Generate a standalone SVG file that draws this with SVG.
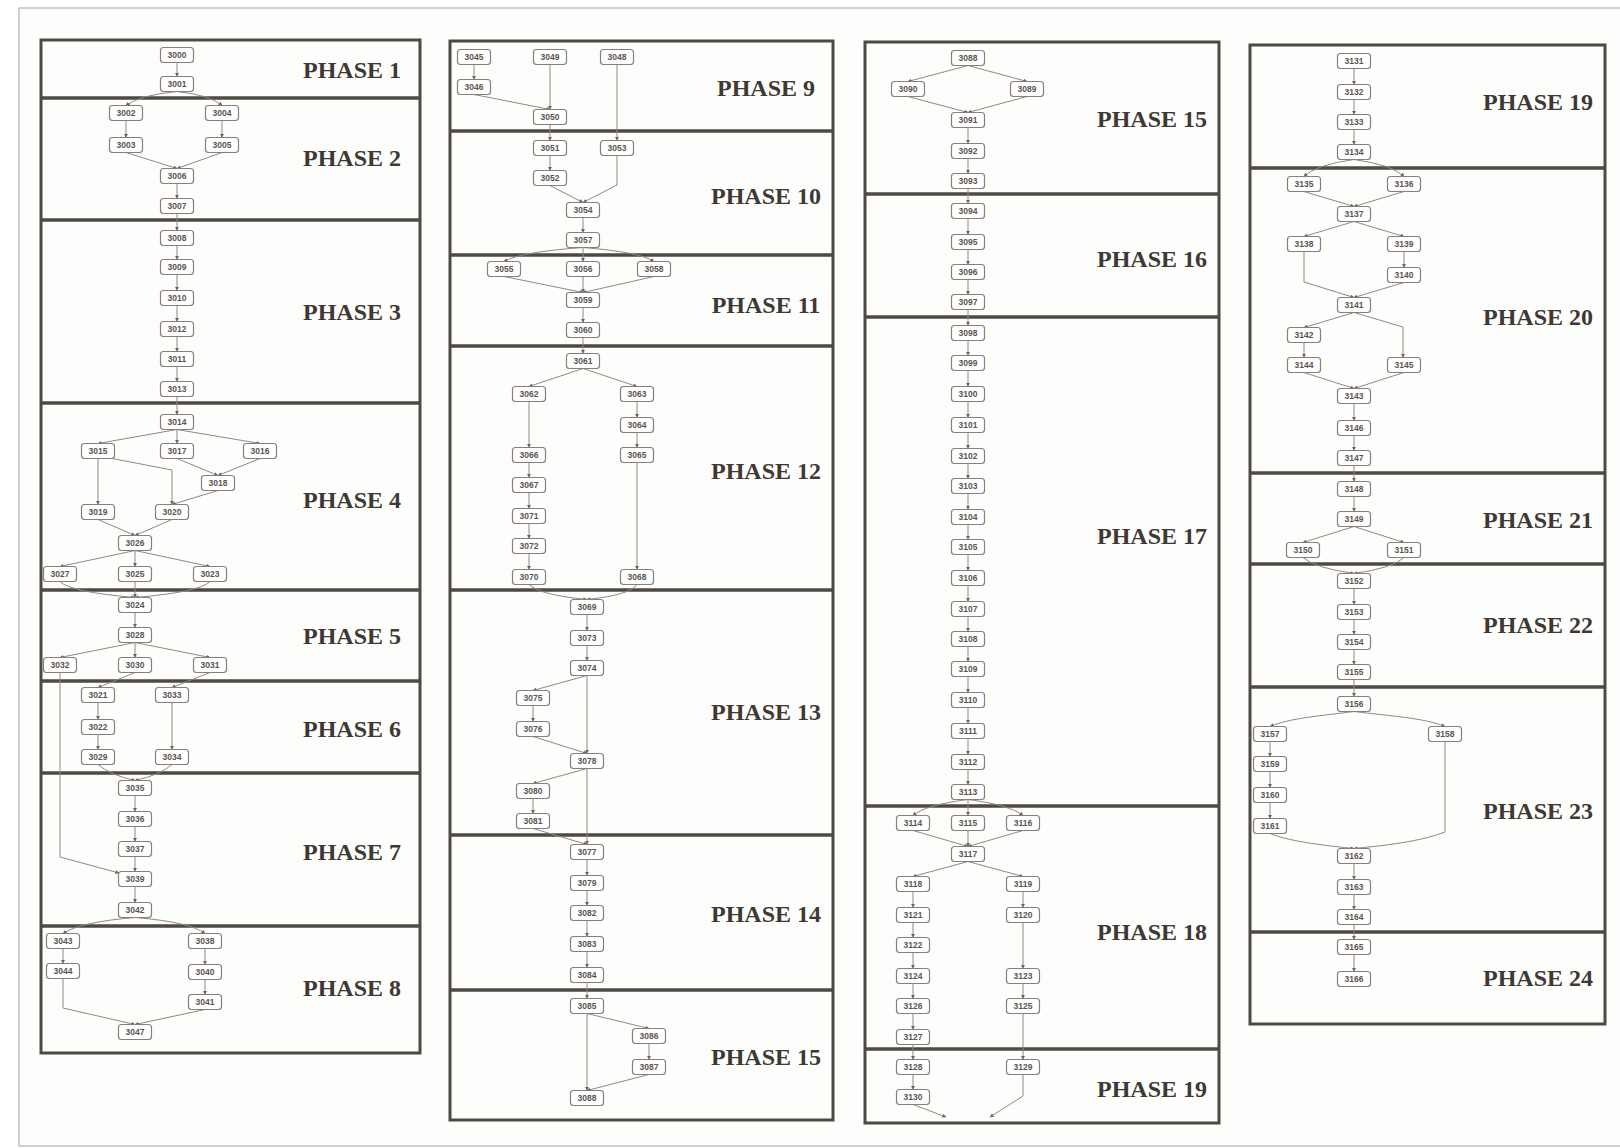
<svg xmlns="http://www.w3.org/2000/svg" width="1620" height="1148" viewBox="0 0 1620 1148">
<defs>
<marker id="ar" viewBox="0 0 6 6" refX="5.5" refY="3" markerWidth="4" markerHeight="4" orient="auto"><path d="M0,0 L6,3 L0,6 z" fill="#6a6560"/></marker>
<style>
.page{fill:#fdfdfc;stroke:#a8a5a2;stroke-width:1}
.frame{fill:none;stroke:#4f4843;stroke-width:3}
.dv{stroke:#4f4843;stroke-width:3.5}
.n rect{fill:#fff;stroke:#85807b;stroke-width:1.2}
.n text{font-family:"Liberation Sans",Arial,sans-serif;font-size:8.5px;font-weight:bold;fill:#5a5550;text-anchor:middle}
.e path{fill:none;stroke:#8e8984;stroke-width:1;marker-end:url(#ar)}
.ph{font-family:"Liberation Serif","Times New Roman",serif;font-weight:bold;font-size:24px;fill:#3e3935;text-anchor:middle}
</style>
</defs>
<rect class="page" x="19" y="8" width="1620" height="1138"/>
<g id="frames">
<rect class="frame" x="41" y="40" width="379" height="1013"/>
<rect class="frame" x="450" y="41" width="383" height="1079"/>
<rect class="frame" x="865" y="42" width="354" height="1081"/>
<rect class="frame" x="1250" y="45" width="355" height="979"/>
<path class="dv" d="M41 98H420M41 220H420M41 403H420M41 590H420M41 681H420M41 773H420M41 926H420"/>
<path class="dv" d="M450 131H833M450 255H833M450 346H833M450 590H833M450 835H833M450 990H833"/>
<path class="dv" d="M865 194H1219M865 317H1219M865 806H1219M865 1049H1219"/>
<path class="dv" d="M1250 168H1605M1250 473H1605M1250 564H1605M1250 687H1605M1250 932H1605"/>
</g>
<g id="labels">
<text class="ph" x="352" y="78">PHASE 1</text>
<text class="ph" x="352" y="166">PHASE 2</text>
<text class="ph" x="352" y="320">PHASE 3</text>
<text class="ph" x="352" y="508">PHASE 4</text>
<text class="ph" x="352" y="644">PHASE 5</text>
<text class="ph" x="352" y="737">PHASE 6</text>
<text class="ph" x="352" y="860">PHASE 7</text>
<text class="ph" x="352" y="996">PHASE 8</text>
<text class="ph" x="766" y="96">PHASE 9</text>
<text class="ph" x="766" y="204">PHASE 10</text>
<text class="ph" x="766" y="313">PHASE 11</text>
<text class="ph" x="766" y="479">PHASE 12</text>
<text class="ph" x="766" y="720">PHASE 13</text>
<text class="ph" x="766" y="922">PHASE 14</text>
<text class="ph" x="766" y="1065">PHASE 15</text>
<text class="ph" x="1152" y="127">PHASE 15</text>
<text class="ph" x="1152" y="267">PHASE 16</text>
<text class="ph" x="1152" y="544">PHASE 17</text>
<text class="ph" x="1152" y="940">PHASE 18</text>
<text class="ph" x="1152" y="1097">PHASE 19</text>
<text class="ph" x="1538" y="110">PHASE 19</text>
<text class="ph" x="1538" y="325">PHASE 20</text>
<text class="ph" x="1538" y="528">PHASE 21</text>
<text class="ph" x="1538" y="633">PHASE 22</text>
<text class="ph" x="1538" y="819">PHASE 23</text>
<text class="ph" x="1538" y="986">PHASE 24</text>
</g>
<g id="connectors" class="e">
<path d="M177 62.5V76.5"/>
<path d="M177 91.5Q140 95 126 105.5"/>
<path d="M177 91.5Q210 95 222 105.5"/>
<path d="M126 120.5V137.5"/>
<path d="M222 120.5V137.5"/>
<path d="M126 152.5L177 168.5"/>
<path d="M222 152.5L177 168.5"/>
<path d="M177 183.5V198.5"/>
<path d="M177 213.5V230.5"/>
<path d="M177 245.5V259.5"/>
<path d="M177 274.5V290.5"/>
<path d="M177 305.5V321.5"/>
<path d="M177 336.5V351.5"/>
<path d="M177 366.5V381.5"/>
<path d="M177 396.5V414.5"/>
<path d="M177 429.5L98 443.5"/>
<path d="M177 429.5V443.5"/>
<path d="M177 429.5L260 443.5"/>
<path d="M98 458.5V504.5"/>
<path d="M112 458.5L172 470V504.5"/>
<path d="M177 458.5L218 475.5"/>
<path d="M260 458.5L218 475.5"/>
<path d="M218 490.5L172 504.5"/>
<path d="M98 519.5L135 535.5"/>
<path d="M172 519.5L135 535.5"/>
<path d="M135 550.5L60 566.5"/>
<path d="M135 550.5V566.5"/>
<path d="M135 550.5L210 566.5"/>
<path d="M60 581.5Q70 592 135 597.5"/>
<path d="M135 581.5V597.5"/>
<path d="M210 581.5Q200 592 135 597.5"/>
<path d="M135 612.5V627.5"/>
<path d="M135 642.5L60 657.5"/>
<path d="M135 642.5V657.5"/>
<path d="M135 642.5L210 657.5"/>
<path d="M135 672.5L98 687.5"/>
<path d="M210 672.5L172 687.5"/>
<path d="M60 672.5V857L119 873"/>
<path d="M98 702.5V719.5"/>
<path d="M98 734.5V749.5"/>
<path d="M172 702.5V749.5"/>
<path d="M98 764.5Q110 775 135 780.5"/>
<path d="M172 764.5Q160 775 135 780.5"/>
<path d="M135 795.5V811.5"/>
<path d="M135 826.5V841.5"/>
<path d="M135 856.5V871.5"/>
<path d="M135 886.5V902.5"/>
<path d="M135 917.5Q80 922 63 933.5"/>
<path d="M135 917.5Q190 922 205 933.5"/>
<path d="M63 948.5V963.5"/>
<path d="M63 978.5V1008L135 1024.5"/>
<path d="M205 948.5V964.5"/>
<path d="M205 979.5V994.5"/>
<path d="M205 1009.5L135 1024.5"/>
<path d="M474 64.5V79.5"/>
<path d="M474 94.5L550 109.5"/>
<path d="M550 64.5V109.5"/>
<path d="M617 64.5V140.5"/>
<path d="M550 124.5V140.5"/>
<path d="M550 155.5V170.5"/>
<path d="M550 185.5L583 202.5"/>
<path d="M617 155.5V185L583 202.5"/>
<path d="M583 217.5V232.5"/>
<path d="M583 247.5Q520 252 504 261.5"/>
<path d="M583 247.5V261.5"/>
<path d="M583 247.5Q640 252 654 261.5"/>
<path d="M504 276.5L583 292.5"/>
<path d="M583 276.5V292.5"/>
<path d="M654 276.5L583 292.5"/>
<path d="M583 307.5V322.5"/>
<path d="M583 337.5V353.5"/>
<path d="M583 368.5L529 386.5"/>
<path d="M583 368.5L637 386.5"/>
<path d="M529 401.5V447.5"/>
<path d="M529 462.5V477.5"/>
<path d="M529 492.5V508.5"/>
<path d="M529 523.5V538.5"/>
<path d="M529 553.5V569.5"/>
<path d="M637 401.5V417.5"/>
<path d="M637 432.5V447.5"/>
<path d="M637 462.5V569.5"/>
<path d="M529 584.5Q540 595 587 599.5"/>
<path d="M637 584.5Q630 595 587 599.5"/>
<path d="M587 614.5V630.5"/>
<path d="M587 645.5V660.5"/>
<path d="M587 675.5L533 690.5"/>
<path d="M533 705.5V721.5"/>
<path d="M533 736.5L587 753.5"/>
<path d="M587 675.5V753.5"/>
<path d="M587 768.5L533 783.5"/>
<path d="M533 798.5V813.5"/>
<path d="M533 828.5L587 844.5"/>
<path d="M587 768.5V844.5"/>
<path d="M587 859.5V875.5"/>
<path d="M587 890.5V905.5"/>
<path d="M587 920.5V936.5"/>
<path d="M587 951.5V967.5"/>
<path d="M587 982.5V998.5"/>
<path d="M587 1013.5L649 1028.5"/>
<path d="M649 1043.5V1059.5"/>
<path d="M649 1074.5L587 1090.5"/>
<path d="M587 1013.5V1090.5"/>
<path d="M968 65.5L908 81.5"/>
<path d="M968 65.5L1027 81.5"/>
<path d="M908 96.5L968 112.5"/>
<path d="M1027 96.5L968 112.5"/>
<path d="M968 127.5V143.5"/>
<path d="M968 158.5V173.5"/>
<path d="M968 188.5V203.5"/>
<path d="M968 218.5V234.5"/>
<path d="M968 249.5V264.5"/>
<path d="M968 279.5V294.5"/>
<path d="M968 309.5V325.5"/>
<path d="M968 340.5V355.5"/>
<path d="M968 370.5V386.5"/>
<path d="M968 401.5V417.5"/>
<path d="M968 432.5V448.5"/>
<path d="M968 463.5V478.5"/>
<path d="M968 493.5V509.5"/>
<path d="M968 524.5V539.5"/>
<path d="M968 554.5V570.5"/>
<path d="M968 585.5V601.5"/>
<path d="M968 616.5V631.5"/>
<path d="M968 646.5V661.5"/>
<path d="M968 676.5V692.5"/>
<path d="M968 707.5V723.5"/>
<path d="M968 738.5V754.5"/>
<path d="M968 769.5V784.5"/>
<path d="M968 799.5Q925 805 913 815.5"/>
<path d="M968 799.5V815.5"/>
<path d="M968 799.5Q1010 805 1023 815.5"/>
<path d="M913 830.5L968 846.5"/>
<path d="M968 830.5V846.5"/>
<path d="M1023 830.5L968 846.5"/>
<path d="M968 861.5L913 876.5"/>
<path d="M968 861.5L1023 876.5"/>
<path d="M913 891.5V907.5"/>
<path d="M913 922.5V937.5"/>
<path d="M913 952.5V968.5"/>
<path d="M913 983.5V998.5"/>
<path d="M913 1013.5V1029.5"/>
<path d="M913 1044.5V1059.5"/>
<path d="M913 1074.5V1089.5"/>
<path d="M1023 891.5V907.5"/>
<path d="M1023 922.5V968.5"/>
<path d="M1023 983.5V998.5"/>
<path d="M1023 1013.5V1059.5"/>
<path d="M913 1104.5L946 1117"/>
<path d="M1023 1074.5V1096L990 1117"/>
<path d="M1354 68.5V84.5"/>
<path d="M1354 99.5V114.5"/>
<path d="M1354 129.5V144.5"/>
<path d="M1354 159.5Q1315 165 1304 176.5"/>
<path d="M1354 159.5Q1393 165 1404 176.5"/>
<path d="M1304 191.5L1354 206.5"/>
<path d="M1404 191.5L1354 206.5"/>
<path d="M1354 221.5L1304 236.5"/>
<path d="M1354 221.5L1404 236.5"/>
<path d="M1404 251.5V267.5"/>
<path d="M1304 251.5V282L1354 297.5"/>
<path d="M1404 282.5L1354 297.5"/>
<path d="M1354 312.5L1304 327.5"/>
<path d="M1354 312.5L1403 327V357.5"/>
<path d="M1304 342.5V357.5"/>
<path d="M1304 372.5L1354 388.5"/>
<path d="M1404 372.5L1354 388.5"/>
<path d="M1354 403.5V420.5"/>
<path d="M1354 435.5V450.5"/>
<path d="M1354 465.5V481.5"/>
<path d="M1354 496.5V511.5"/>
<path d="M1354 526.5L1303 542.5"/>
<path d="M1354 526.5L1404 542.5"/>
<path d="M1303 557.5Q1315 568 1354 573.5"/>
<path d="M1404 557.5Q1393 568 1354 573.5"/>
<path d="M1354 588.5V604.5"/>
<path d="M1354 619.5V634.5"/>
<path d="M1354 649.5V664.5"/>
<path d="M1354 679.5V696.5"/>
<path d="M1354 711.5C1320 716 1290 718 1270 726.5"/>
<path d="M1354 711.5C1390 716 1425 718 1445 726.5"/>
<path d="M1270 741.5V756.5"/>
<path d="M1270 771.5V787.5"/>
<path d="M1270 802.5V818.5"/>
<path d="M1270 833.5C1290 842 1330 846 1354 848.5"/>
<path d="M1445 741.5V832C1420 842 1380 846 1354 848.5"/>
<path d="M1354 863.5V879.5"/>
<path d="M1354 894.5V909.5"/>
<path d="M1354 924.5V939.5"/>
<path d="M1354 954.5V971.5"/>
</g>
<g id="nodes">
<g id="n3000" class="n"><rect x="160.5" y="47.5" width="33" height="15" rx="3"/><text x="177" y="58">3000</text></g>
<g id="n3001" class="n"><rect x="160.5" y="76.5" width="33" height="15" rx="3"/><text x="177" y="87">3001</text></g>
<g id="n3002" class="n"><rect x="109.5" y="105.5" width="33" height="15" rx="3"/><text x="126" y="116">3002</text></g>
<g id="n3004" class="n"><rect x="205.5" y="105.5" width="33" height="15" rx="3"/><text x="222" y="116">3004</text></g>
<g id="n3003" class="n"><rect x="109.5" y="137.5" width="33" height="15" rx="3"/><text x="126" y="148">3003</text></g>
<g id="n3005" class="n"><rect x="205.5" y="137.5" width="33" height="15" rx="3"/><text x="222" y="148">3005</text></g>
<g id="n3006" class="n"><rect x="160.5" y="168.5" width="33" height="15" rx="3"/><text x="177" y="179">3006</text></g>
<g id="n3007" class="n"><rect x="160.5" y="198.5" width="33" height="15" rx="3"/><text x="177" y="209">3007</text></g>
<g id="n3008" class="n"><rect x="160.5" y="230.5" width="33" height="15" rx="3"/><text x="177" y="241">3008</text></g>
<g id="n3009" class="n"><rect x="160.5" y="259.5" width="33" height="15" rx="3"/><text x="177" y="270">3009</text></g>
<g id="n3010" class="n"><rect x="160.5" y="290.5" width="33" height="15" rx="3"/><text x="177" y="301">3010</text></g>
<g id="n3012" class="n"><rect x="160.5" y="321.5" width="33" height="15" rx="3"/><text x="177" y="332">3012</text></g>
<g id="n3011" class="n"><rect x="160.5" y="351.5" width="33" height="15" rx="3"/><text x="177" y="362">3011</text></g>
<g id="n3013" class="n"><rect x="160.5" y="381.5" width="33" height="15" rx="3"/><text x="177" y="392">3013</text></g>
<g id="n3014" class="n"><rect x="160.5" y="414.5" width="33" height="15" rx="3"/><text x="177" y="425">3014</text></g>
<g id="n3015" class="n"><rect x="81.5" y="443.5" width="33" height="15" rx="3"/><text x="98" y="454">3015</text></g>
<g id="n3017" class="n"><rect x="160.5" y="443.5" width="33" height="15" rx="3"/><text x="177" y="454">3017</text></g>
<g id="n3016" class="n"><rect x="243.5" y="443.5" width="33" height="15" rx="3"/><text x="260" y="454">3016</text></g>
<g id="n3018" class="n"><rect x="201.5" y="475.5" width="33" height="15" rx="3"/><text x="218" y="486">3018</text></g>
<g id="n3019" class="n"><rect x="81.5" y="504.5" width="33" height="15" rx="3"/><text x="98" y="515">3019</text></g>
<g id="n3020" class="n"><rect x="155.5" y="504.5" width="33" height="15" rx="3"/><text x="172" y="515">3020</text></g>
<g id="n3026" class="n"><rect x="118.5" y="535.5" width="33" height="15" rx="3"/><text x="135" y="546">3026</text></g>
<g id="n3027" class="n"><rect x="43.5" y="566.5" width="33" height="15" rx="3"/><text x="60" y="577">3027</text></g>
<g id="n3025" class="n"><rect x="118.5" y="566.5" width="33" height="15" rx="3"/><text x="135" y="577">3025</text></g>
<g id="n3023" class="n"><rect x="193.5" y="566.5" width="33" height="15" rx="3"/><text x="210" y="577">3023</text></g>
<g id="n3024" class="n"><rect x="118.5" y="597.5" width="33" height="15" rx="3"/><text x="135" y="608">3024</text></g>
<g id="n3028" class="n"><rect x="118.5" y="627.5" width="33" height="15" rx="3"/><text x="135" y="638">3028</text></g>
<g id="n3032" class="n"><rect x="43.5" y="657.5" width="33" height="15" rx="3"/><text x="60" y="668">3032</text></g>
<g id="n3030" class="n"><rect x="118.5" y="657.5" width="33" height="15" rx="3"/><text x="135" y="668">3030</text></g>
<g id="n3031" class="n"><rect x="193.5" y="657.5" width="33" height="15" rx="3"/><text x="210" y="668">3031</text></g>
<g id="n3021" class="n"><rect x="81.5" y="687.5" width="33" height="15" rx="3"/><text x="98" y="698">3021</text></g>
<g id="n3033" class="n"><rect x="155.5" y="687.5" width="33" height="15" rx="3"/><text x="172" y="698">3033</text></g>
<g id="n3022" class="n"><rect x="81.5" y="719.5" width="33" height="15" rx="3"/><text x="98" y="730">3022</text></g>
<g id="n3029" class="n"><rect x="81.5" y="749.5" width="33" height="15" rx="3"/><text x="98" y="760">3029</text></g>
<g id="n3034" class="n"><rect x="155.5" y="749.5" width="33" height="15" rx="3"/><text x="172" y="760">3034</text></g>
<g id="n3035" class="n"><rect x="118.5" y="780.5" width="33" height="15" rx="3"/><text x="135" y="791">3035</text></g>
<g id="n3036" class="n"><rect x="118.5" y="811.5" width="33" height="15" rx="3"/><text x="135" y="822">3036</text></g>
<g id="n3037" class="n"><rect x="118.5" y="841.5" width="33" height="15" rx="3"/><text x="135" y="852">3037</text></g>
<g id="n3039" class="n"><rect x="118.5" y="871.5" width="33" height="15" rx="3"/><text x="135" y="882">3039</text></g>
<g id="n3042" class="n"><rect x="118.5" y="902.5" width="33" height="15" rx="3"/><text x="135" y="913">3042</text></g>
<g id="n3043" class="n"><rect x="46.5" y="933.5" width="33" height="15" rx="3"/><text x="63" y="944">3043</text></g>
<g id="n3038" class="n"><rect x="188.5" y="933.5" width="33" height="15" rx="3"/><text x="205" y="944">3038</text></g>
<g id="n3044" class="n"><rect x="46.5" y="963.5" width="33" height="15" rx="3"/><text x="63" y="974">3044</text></g>
<g id="n3040" class="n"><rect x="188.5" y="964.5" width="33" height="15" rx="3"/><text x="205" y="975">3040</text></g>
<g id="n3041" class="n"><rect x="188.5" y="994.5" width="33" height="15" rx="3"/><text x="205" y="1005">3041</text></g>
<g id="n3047" class="n"><rect x="118.5" y="1024.5" width="33" height="15" rx="3"/><text x="135" y="1035">3047</text></g>
<g id="n3045" class="n"><rect x="457.5" y="49.5" width="33" height="15" rx="3"/><text x="474" y="60">3045</text></g>
<g id="n3049" class="n"><rect x="533.5" y="49.5" width="33" height="15" rx="3"/><text x="550" y="60">3049</text></g>
<g id="n3048" class="n"><rect x="600.5" y="49.5" width="33" height="15" rx="3"/><text x="617" y="60">3048</text></g>
<g id="n3046" class="n"><rect x="457.5" y="79.5" width="33" height="15" rx="3"/><text x="474" y="90">3046</text></g>
<g id="n3050" class="n"><rect x="533.5" y="109.5" width="33" height="15" rx="3"/><text x="550" y="120">3050</text></g>
<g id="n3051" class="n"><rect x="533.5" y="140.5" width="33" height="15" rx="3"/><text x="550" y="151">3051</text></g>
<g id="n3053" class="n"><rect x="600.5" y="140.5" width="33" height="15" rx="3"/><text x="617" y="151">3053</text></g>
<g id="n3052" class="n"><rect x="533.5" y="170.5" width="33" height="15" rx="3"/><text x="550" y="181">3052</text></g>
<g id="n3054" class="n"><rect x="566.5" y="202.5" width="33" height="15" rx="3"/><text x="583" y="213">3054</text></g>
<g id="n3057" class="n"><rect x="566.5" y="232.5" width="33" height="15" rx="3"/><text x="583" y="243">3057</text></g>
<g id="n3055" class="n"><rect x="487.5" y="261.5" width="33" height="15" rx="3"/><text x="504" y="272">3055</text></g>
<g id="n3056" class="n"><rect x="566.5" y="261.5" width="33" height="15" rx="3"/><text x="583" y="272">3056</text></g>
<g id="n3058" class="n"><rect x="637.5" y="261.5" width="33" height="15" rx="3"/><text x="654" y="272">3058</text></g>
<g id="n3059" class="n"><rect x="566.5" y="292.5" width="33" height="15" rx="3"/><text x="583" y="303">3059</text></g>
<g id="n3060" class="n"><rect x="566.5" y="322.5" width="33" height="15" rx="3"/><text x="583" y="333">3060</text></g>
<g id="n3061" class="n"><rect x="566.5" y="353.5" width="33" height="15" rx="3"/><text x="583" y="364">3061</text></g>
<g id="n3062" class="n"><rect x="512.5" y="386.5" width="33" height="15" rx="3"/><text x="529" y="397">3062</text></g>
<g id="n3063" class="n"><rect x="620.5" y="386.5" width="33" height="15" rx="3"/><text x="637" y="397">3063</text></g>
<g id="n3064" class="n"><rect x="620.5" y="417.5" width="33" height="15" rx="3"/><text x="637" y="428">3064</text></g>
<g id="n3066" class="n"><rect x="512.5" y="447.5" width="33" height="15" rx="3"/><text x="529" y="458">3066</text></g>
<g id="n3065" class="n"><rect x="620.5" y="447.5" width="33" height="15" rx="3"/><text x="637" y="458">3065</text></g>
<g id="n3067" class="n"><rect x="512.5" y="477.5" width="33" height="15" rx="3"/><text x="529" y="488">3067</text></g>
<g id="n3071" class="n"><rect x="512.5" y="508.5" width="33" height="15" rx="3"/><text x="529" y="519">3071</text></g>
<g id="n3072" class="n"><rect x="512.5" y="538.5" width="33" height="15" rx="3"/><text x="529" y="549">3072</text></g>
<g id="n3070" class="n"><rect x="512.5" y="569.5" width="33" height="15" rx="3"/><text x="529" y="580">3070</text></g>
<g id="n3068" class="n"><rect x="620.5" y="569.5" width="33" height="15" rx="3"/><text x="637" y="580">3068</text></g>
<g id="n3069" class="n"><rect x="570.5" y="599.5" width="33" height="15" rx="3"/><text x="587" y="610">3069</text></g>
<g id="n3073" class="n"><rect x="570.5" y="630.5" width="33" height="15" rx="3"/><text x="587" y="641">3073</text></g>
<g id="n3074" class="n"><rect x="570.5" y="660.5" width="33" height="15" rx="3"/><text x="587" y="671">3074</text></g>
<g id="n3075" class="n"><rect x="516.5" y="690.5" width="33" height="15" rx="3"/><text x="533" y="701">3075</text></g>
<g id="n3076" class="n"><rect x="516.5" y="721.5" width="33" height="15" rx="3"/><text x="533" y="732">3076</text></g>
<g id="n3078" class="n"><rect x="570.5" y="753.5" width="33" height="15" rx="3"/><text x="587" y="764">3078</text></g>
<g id="n3080" class="n"><rect x="516.5" y="783.5" width="33" height="15" rx="3"/><text x="533" y="794">3080</text></g>
<g id="n3081" class="n"><rect x="516.5" y="813.5" width="33" height="15" rx="3"/><text x="533" y="824">3081</text></g>
<g id="n3077" class="n"><rect x="570.5" y="844.5" width="33" height="15" rx="3"/><text x="587" y="855">3077</text></g>
<g id="n3079" class="n"><rect x="570.5" y="875.5" width="33" height="15" rx="3"/><text x="587" y="886">3079</text></g>
<g id="n3082" class="n"><rect x="570.5" y="905.5" width="33" height="15" rx="3"/><text x="587" y="916">3082</text></g>
<g id="n3083" class="n"><rect x="570.5" y="936.5" width="33" height="15" rx="3"/><text x="587" y="947">3083</text></g>
<g id="n3084" class="n"><rect x="570.5" y="967.5" width="33" height="15" rx="3"/><text x="587" y="978">3084</text></g>
<g id="n3085" class="n"><rect x="570.5" y="998.5" width="33" height="15" rx="3"/><text x="587" y="1009">3085</text></g>
<g id="n3086" class="n"><rect x="632.5" y="1028.5" width="33" height="15" rx="3"/><text x="649" y="1039">3086</text></g>
<g id="n3087" class="n"><rect x="632.5" y="1059.5" width="33" height="15" rx="3"/><text x="649" y="1070">3087</text></g>
<g id="n3088" class="n"><rect x="570.5" y="1090.5" width="33" height="15" rx="3"/><text x="587" y="1101">3088</text></g>
<g id="n3088b" class="n"><rect x="951.5" y="50.5" width="33" height="15" rx="3"/><text x="968" y="61">3088</text></g>
<g id="n3090" class="n"><rect x="891.5" y="81.5" width="33" height="15" rx="3"/><text x="908" y="92">3090</text></g>
<g id="n3089" class="n"><rect x="1010.5" y="81.5" width="33" height="15" rx="3"/><text x="1027" y="92">3089</text></g>
<g id="n3091" class="n"><rect x="951.5" y="112.5" width="33" height="15" rx="3"/><text x="968" y="123">3091</text></g>
<g id="n3092" class="n"><rect x="951.5" y="143.5" width="33" height="15" rx="3"/><text x="968" y="154">3092</text></g>
<g id="n3093" class="n"><rect x="951.5" y="173.5" width="33" height="15" rx="3"/><text x="968" y="184">3093</text></g>
<g id="n3094" class="n"><rect x="951.5" y="203.5" width="33" height="15" rx="3"/><text x="968" y="214">3094</text></g>
<g id="n3095" class="n"><rect x="951.5" y="234.5" width="33" height="15" rx="3"/><text x="968" y="245">3095</text></g>
<g id="n3096" class="n"><rect x="951.5" y="264.5" width="33" height="15" rx="3"/><text x="968" y="275">3096</text></g>
<g id="n3097" class="n"><rect x="951.5" y="294.5" width="33" height="15" rx="3"/><text x="968" y="305">3097</text></g>
<g id="n3098" class="n"><rect x="951.5" y="325.5" width="33" height="15" rx="3"/><text x="968" y="336">3098</text></g>
<g id="n3099" class="n"><rect x="951.5" y="355.5" width="33" height="15" rx="3"/><text x="968" y="366">3099</text></g>
<g id="n3100" class="n"><rect x="951.5" y="386.5" width="33" height="15" rx="3"/><text x="968" y="397">3100</text></g>
<g id="n3101" class="n"><rect x="951.5" y="417.5" width="33" height="15" rx="3"/><text x="968" y="428">3101</text></g>
<g id="n3102" class="n"><rect x="951.5" y="448.5" width="33" height="15" rx="3"/><text x="968" y="459">3102</text></g>
<g id="n3103" class="n"><rect x="951.5" y="478.5" width="33" height="15" rx="3"/><text x="968" y="489">3103</text></g>
<g id="n3104" class="n"><rect x="951.5" y="509.5" width="33" height="15" rx="3"/><text x="968" y="520">3104</text></g>
<g id="n3105" class="n"><rect x="951.5" y="539.5" width="33" height="15" rx="3"/><text x="968" y="550">3105</text></g>
<g id="n3106" class="n"><rect x="951.5" y="570.5" width="33" height="15" rx="3"/><text x="968" y="581">3106</text></g>
<g id="n3107" class="n"><rect x="951.5" y="601.5" width="33" height="15" rx="3"/><text x="968" y="612">3107</text></g>
<g id="n3108" class="n"><rect x="951.5" y="631.5" width="33" height="15" rx="3"/><text x="968" y="642">3108</text></g>
<g id="n3109" class="n"><rect x="951.5" y="661.5" width="33" height="15" rx="3"/><text x="968" y="672">3109</text></g>
<g id="n3110" class="n"><rect x="951.5" y="692.5" width="33" height="15" rx="3"/><text x="968" y="703">3110</text></g>
<g id="n3111" class="n"><rect x="951.5" y="723.5" width="33" height="15" rx="3"/><text x="968" y="734">3111</text></g>
<g id="n3112" class="n"><rect x="951.5" y="754.5" width="33" height="15" rx="3"/><text x="968" y="765">3112</text></g>
<g id="n3113" class="n"><rect x="951.5" y="784.5" width="33" height="15" rx="3"/><text x="968" y="795">3113</text></g>
<g id="n3114" class="n"><rect x="896.5" y="815.5" width="33" height="15" rx="3"/><text x="913" y="826">3114</text></g>
<g id="n3115" class="n"><rect x="951.5" y="815.5" width="33" height="15" rx="3"/><text x="968" y="826">3115</text></g>
<g id="n3116" class="n"><rect x="1006.5" y="815.5" width="33" height="15" rx="3"/><text x="1023" y="826">3116</text></g>
<g id="n3117" class="n"><rect x="951.5" y="846.5" width="33" height="15" rx="3"/><text x="968" y="857">3117</text></g>
<g id="n3118" class="n"><rect x="896.5" y="876.5" width="33" height="15" rx="3"/><text x="913" y="887">3118</text></g>
<g id="n3119" class="n"><rect x="1006.5" y="876.5" width="33" height="15" rx="3"/><text x="1023" y="887">3119</text></g>
<g id="n3121" class="n"><rect x="896.5" y="907.5" width="33" height="15" rx="3"/><text x="913" y="918">3121</text></g>
<g id="n3120" class="n"><rect x="1006.5" y="907.5" width="33" height="15" rx="3"/><text x="1023" y="918">3120</text></g>
<g id="n3122" class="n"><rect x="896.5" y="937.5" width="33" height="15" rx="3"/><text x="913" y="948">3122</text></g>
<g id="n3124" class="n"><rect x="896.5" y="968.5" width="33" height="15" rx="3"/><text x="913" y="979">3124</text></g>
<g id="n3123" class="n"><rect x="1006.5" y="968.5" width="33" height="15" rx="3"/><text x="1023" y="979">3123</text></g>
<g id="n3126" class="n"><rect x="896.5" y="998.5" width="33" height="15" rx="3"/><text x="913" y="1009">3126</text></g>
<g id="n3125" class="n"><rect x="1006.5" y="998.5" width="33" height="15" rx="3"/><text x="1023" y="1009">3125</text></g>
<g id="n3127" class="n"><rect x="896.5" y="1029.5" width="33" height="15" rx="3"/><text x="913" y="1040">3127</text></g>
<g id="n3128" class="n"><rect x="896.5" y="1059.5" width="33" height="15" rx="3"/><text x="913" y="1070">3128</text></g>
<g id="n3129" class="n"><rect x="1006.5" y="1059.5" width="33" height="15" rx="3"/><text x="1023" y="1070">3129</text></g>
<g id="n3130" class="n"><rect x="896.5" y="1089.5" width="33" height="15" rx="3"/><text x="913" y="1100">3130</text></g>
<g id="n3131" class="n"><rect x="1337.5" y="53.5" width="33" height="15" rx="3"/><text x="1354" y="64">3131</text></g>
<g id="n3132" class="n"><rect x="1337.5" y="84.5" width="33" height="15" rx="3"/><text x="1354" y="95">3132</text></g>
<g id="n3133" class="n"><rect x="1337.5" y="114.5" width="33" height="15" rx="3"/><text x="1354" y="125">3133</text></g>
<g id="n3134" class="n"><rect x="1337.5" y="144.5" width="33" height="15" rx="3"/><text x="1354" y="155">3134</text></g>
<g id="n3135" class="n"><rect x="1287.5" y="176.5" width="33" height="15" rx="3"/><text x="1304" y="187">3135</text></g>
<g id="n3136" class="n"><rect x="1387.5" y="176.5" width="33" height="15" rx="3"/><text x="1404" y="187">3136</text></g>
<g id="n3137" class="n"><rect x="1337.5" y="206.5" width="33" height="15" rx="3"/><text x="1354" y="217">3137</text></g>
<g id="n3138" class="n"><rect x="1287.5" y="236.5" width="33" height="15" rx="3"/><text x="1304" y="247">3138</text></g>
<g id="n3139" class="n"><rect x="1387.5" y="236.5" width="33" height="15" rx="3"/><text x="1404" y="247">3139</text></g>
<g id="n3140" class="n"><rect x="1387.5" y="267.5" width="33" height="15" rx="3"/><text x="1404" y="278">3140</text></g>
<g id="n3141" class="n"><rect x="1337.5" y="297.5" width="33" height="15" rx="3"/><text x="1354" y="308">3141</text></g>
<g id="n3142" class="n"><rect x="1287.5" y="327.5" width="33" height="15" rx="3"/><text x="1304" y="338">3142</text></g>
<g id="n3144" class="n"><rect x="1287.5" y="357.5" width="33" height="15" rx="3"/><text x="1304" y="368">3144</text></g>
<g id="n3145" class="n"><rect x="1387.5" y="357.5" width="33" height="15" rx="3"/><text x="1404" y="368">3145</text></g>
<g id="n3143" class="n"><rect x="1337.5" y="388.5" width="33" height="15" rx="3"/><text x="1354" y="399">3143</text></g>
<g id="n3146" class="n"><rect x="1337.5" y="420.5" width="33" height="15" rx="3"/><text x="1354" y="431">3146</text></g>
<g id="n3147" class="n"><rect x="1337.5" y="450.5" width="33" height="15" rx="3"/><text x="1354" y="461">3147</text></g>
<g id="n3148" class="n"><rect x="1337.5" y="481.5" width="33" height="15" rx="3"/><text x="1354" y="492">3148</text></g>
<g id="n3149" class="n"><rect x="1337.5" y="511.5" width="33" height="15" rx="3"/><text x="1354" y="522">3149</text></g>
<g id="n3150" class="n"><rect x="1286.5" y="542.5" width="33" height="15" rx="3"/><text x="1303" y="553">3150</text></g>
<g id="n3151" class="n"><rect x="1387.5" y="542.5" width="33" height="15" rx="3"/><text x="1404" y="553">3151</text></g>
<g id="n3152" class="n"><rect x="1337.5" y="573.5" width="33" height="15" rx="3"/><text x="1354" y="584">3152</text></g>
<g id="n3153" class="n"><rect x="1337.5" y="604.5" width="33" height="15" rx="3"/><text x="1354" y="615">3153</text></g>
<g id="n3154" class="n"><rect x="1337.5" y="634.5" width="33" height="15" rx="3"/><text x="1354" y="645">3154</text></g>
<g id="n3155" class="n"><rect x="1337.5" y="664.5" width="33" height="15" rx="3"/><text x="1354" y="675">3155</text></g>
<g id="n3156" class="n"><rect x="1337.5" y="696.5" width="33" height="15" rx="3"/><text x="1354" y="707">3156</text></g>
<g id="n3157" class="n"><rect x="1253.5" y="726.5" width="33" height="15" rx="3"/><text x="1270" y="737">3157</text></g>
<g id="n3158" class="n"><rect x="1428.5" y="726.5" width="33" height="15" rx="3"/><text x="1445" y="737">3158</text></g>
<g id="n3159" class="n"><rect x="1253.5" y="756.5" width="33" height="15" rx="3"/><text x="1270" y="767">3159</text></g>
<g id="n3160" class="n"><rect x="1253.5" y="787.5" width="33" height="15" rx="3"/><text x="1270" y="798">3160</text></g>
<g id="n3161" class="n"><rect x="1253.5" y="818.5" width="33" height="15" rx="3"/><text x="1270" y="829">3161</text></g>
<g id="n3162" class="n"><rect x="1337.5" y="848.5" width="33" height="15" rx="3"/><text x="1354" y="859">3162</text></g>
<g id="n3163" class="n"><rect x="1337.5" y="879.5" width="33" height="15" rx="3"/><text x="1354" y="890">3163</text></g>
<g id="n3164" class="n"><rect x="1337.5" y="909.5" width="33" height="15" rx="3"/><text x="1354" y="920">3164</text></g>
<g id="n3165" class="n"><rect x="1337.5" y="939.5" width="33" height="15" rx="3"/><text x="1354" y="950">3165</text></g>
<g id="n3166" class="n"><rect x="1337.5" y="971.5" width="33" height="15" rx="3"/><text x="1354" y="982">3166</text></g>
</g>
</svg>
